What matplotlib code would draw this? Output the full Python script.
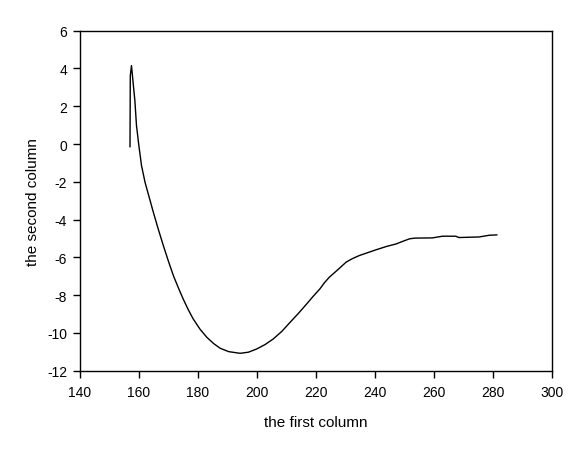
import matplotlib
matplotlib.use("Agg")
import matplotlib.pyplot as plt

plt.rcParams['font.family'] = ['Liberation Sans', 'DejaVu Sans']
plt.rcParams['axes.unicode_minus'] = False

x_vals = [157.1, 157.2, 157.6, 158.2, 158.75, 159.3, 160.1, 161.0, 162.2, 163.6,
          165.0, 166.7, 168.4, 170.1, 171.8, 173.5, 175.1, 176.8, 178.5, 180.8,
          183.1, 185.4, 187.6, 190.5, 194.4, 197.2, 200.0, 202.8, 205.6, 208.5,
          211.3, 214.1, 216.9, 219.2, 221.4, 222.9, 224.6, 227.5, 230.3, 232.5,
          234.8, 237.6, 240.4, 244.0, 247.2, 249.5, 251.7, 253.5, 259.5, 262.9,
          267.4, 268.5, 275.3, 278.7, 281.3]
y_vals = [-0.14, 3.62, 4.15, 3.18, 2.3, 0.97, -0.08, -1.14, -2.03, -2.82,
          -3.61, -4.52, -5.38, -6.2, -6.97, -7.62, -8.2, -8.76, -9.26, -9.8,
          -10.23, -10.56, -10.81, -10.99, -11.08, -11.02, -10.85, -10.62, -10.32, -9.92,
          -9.44, -8.97, -8.47, -8.05, -7.67, -7.35, -7.05, -6.65, -6.25, -6.06,
          -5.9, -5.75, -5.6, -5.42, -5.29, -5.15, -5.02, -4.98, -4.97, -4.88,
          -4.88, -4.95, -4.92, -4.83, -4.81]

x_ticks = [140, 160, 180, 200, 220, 240, 260, 280, 300]
y_ticks = [-12, -10, -8, -6, -4, -2, 0, 2, 4, 6]

fig = plt.figure(figsize=(5.87, 4.52), dpi=100)
ax = fig.add_axes([79.5 / 587, 1 - 371.7 / 452, (552 - 79.5) / 587, (371.7 - 31.7) / 452])
ax.plot(x_vals, y_vals, color='black', linewidth=1.0)
ax.set_xlim(140, 300)
ax.set_ylim(-12, 6)
ax.set_xticks(x_ticks)
ax.set_yticks(y_ticks)
ax.tick_params(direction='out', length=5, width=1, labelsize=10)
ax.tick_params(axis='x', pad=5)
ax.tick_params(axis='y', pad=4)
for s in ax.spines.values():
    s.set_linewidth(1.0)
ax.set_xlabel('the first column', fontsize=11, labelpad=12)
ax.set_ylabel('the second column', fontsize=11, labelpad=5)
fig.savefig('out.png', dpi=100)
